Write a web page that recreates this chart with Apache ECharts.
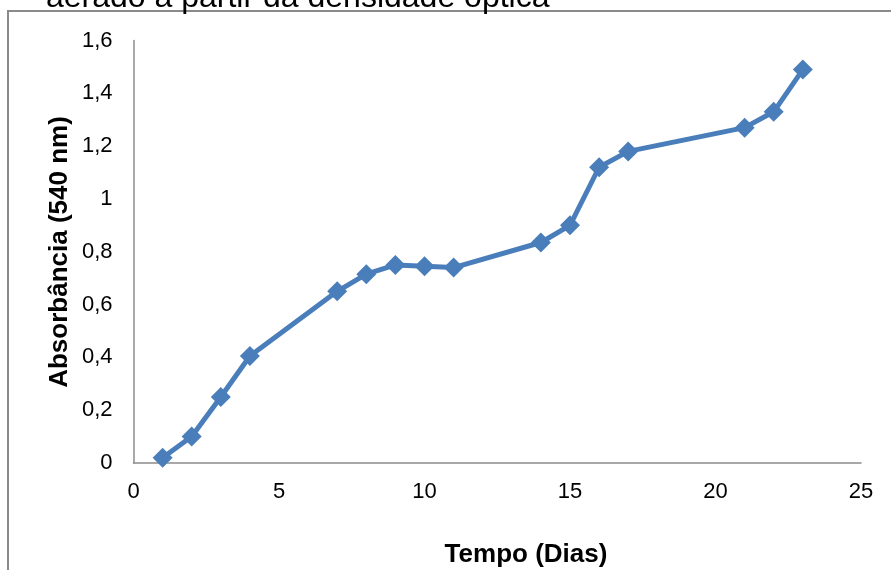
<!DOCTYPE html>
<html>
<head>
<meta charset="utf-8">
<style>
  html, body { margin: 0; padding: 0; background: #fff; }
  #chart { width: 891px; height: 570px; }
</style>
<script src="https://cdn.jsdelivr.net/npm/echarts@6/dist/echarts.min.js"></script>
</head>
<body>
<div id="chart"></div>
<script>
// Tempo de cultivo (dias) e absorbância medida a 540 nm
const dias = [1, 2, 3, 4, 7, 8, 9, 10, 11, 14, 15, 16, 17, 21, 22, 23];
const absorbancia = [0.02, 0.10, 0.25, 0.405, 0.65, 0.715, 0.75, 0.745, 0.74, 0.835, 0.90, 1.12, 1.18, 1.27, 1.33, 1.49];

const xTicks = [0, 5, 10, 15, 20, 25];
const yTicks = [0, 0.2, 0.4, 0.6, 0.8, 1.0, 1.2, 1.4, 1.6];

const tituloGrafico = 'aerado a partir da densidade óptica';
const tituloX = 'Tempo (Dias)';
const tituloY = 'Absorbância (540 nm)';

const FONT = 'Liberation Sans, Arial, sans-serif';

const pontos = dias.map((d, i) => [d, absorbancia[i]]);

const chart = echarts.init(document.getElementById('chart'), null, { renderer: 'canvas' });

chart.setOption({
  backgroundColor: '#ffffff',
  animation: false,
  grid: { left: 133.5, right: 30, top: 40.5, bottom: 107, containLabel: false },
  xAxis: {
    type: 'value',
    min: xTicks[0],
    max: xTicks[xTicks.length - 1],
    interval: xTicks[1] - xTicks[0],
    axisLine: { show: true, lineStyle: { color: '#8c8c8c', width: 1.5 } },
    axisTick: { show: false },
    splitLine: { show: false },
    axisLabel: { color: '#000', fontFamily: FONT, fontSize: 22, margin: 18 }
  },
  yAxis: {
    type: 'value',
    min: yTicks[0],
    max: yTicks[yTicks.length - 1],
    interval: 0.2,
    axisLine: { show: true, lineStyle: { color: '#8c8c8c', width: 1.5 } },
    axisTick: { show: false },
    splitLine: { show: false },
    axisLabel: {
      color: '#000', fontFamily: FONT, fontSize: 22, margin: 21,
      formatter: v => {
        const r = Math.round(v * 10) / 10;
        return Number.isInteger(r) ? String(r) : r.toFixed(1).replace('.', ',');
      }
    }
  },
  series: [{
    type: 'line',
    data: pontos,
    symbol: 'diamond',
    symbolSize: 20,
    showSymbol: true,
    lineStyle: { color: '#4a7ebb', width: 5 },
    itemStyle: { color: '#4a7ebb' },
    z: 3
  }],
  graphic: [
    {
      type: 'rect',
      shape: { x: 8, y: 11, width: 1200, height: 1200 },
      style: { fill: 'none', stroke: '#8a8a8a', lineWidth: 2 },
      silent: true,
      z: 0
    },
    {
      type: 'text',
      left: 46,
      top: -18,
      style: { text: tituloGrafico, font: '32px ' + FONT, fill: '#000' },
      silent: true
    },
    {
      type: 'text',
      x: 526,
      y: 555,
      style: {
        text: tituloX, font: 'bold 26px ' + FONT, fill: '#000',
        align: 'center', verticalAlign: 'middle'
      },
      silent: true
    },
    {
      type: 'text',
      x: 60,
      y: 252,
      rotation: Math.PI / 2,
      style: {
        text: tituloY, font: 'bold 26px ' + FONT, fill: '#000',
        align: 'center', verticalAlign: 'middle'
      },
      silent: true
    }
  ]
});
</script>
</body>
</html>
